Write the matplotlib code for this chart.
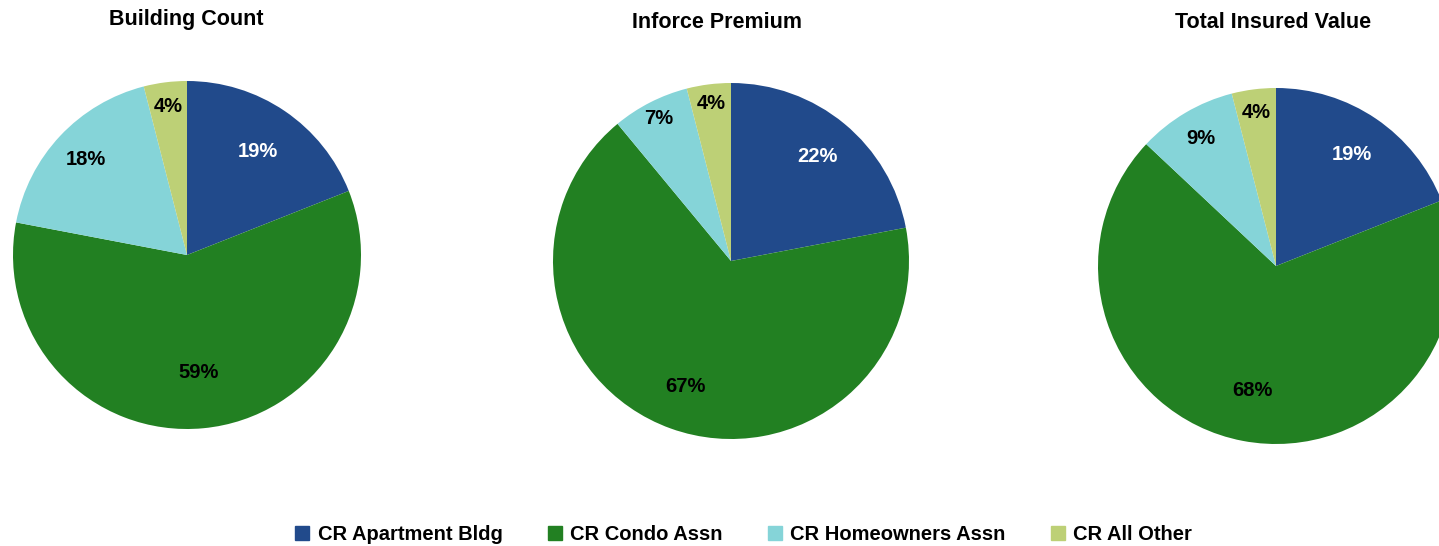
import numpy as np
import matplotlib.pyplot as plt
from matplotlib.lines import Line2D

plt.rcParams["font.family"] = ["Liberation Sans", "DejaVu Sans"]
plt.rcParams["font.weight"] = "bold"

W, H = 1439, 546

categories = ["CR Apartment Bldg", "CR Condo Assn", "CR Homeowners Assn", "CR All Other"]
colors = ["#214A8B", "#228022", "#85D4D8", "#BDD076"]
label_colors = ["white", "black", "black", "black"]

titles = ["Building Count", "Inforce Premium", "Total Insured Value"]
building_count = [19, 59, 18, 4]
inforce_premium = [22, 67, 7, 4]
total_insured = [19, 68, 9, 4]

# pixel layout: (center x, center y from top, radius, title x, title y)
layout = [
    (187, 255, 174, 186, 20),
    (731, 261, 178, 717, 22),
    (1276, 266, 178, 1273, 22),
]
label_dist = [
    [0.72, 0.68, 0.80, 0.86],
    [0.76, 0.75, 0.90, 0.89],
    [0.76, 0.71, 0.83, 0.87],
]

fig = plt.figure(figsize=(W / 100, H / 100), dpi=100)

for vals, title, (cx, cy, r, tx, ty), dists in zip(
        [building_count, inforce_premium, total_insured], titles, layout, label_dist):
    ax = fig.add_axes([(cx - r) / W, (H - cy - r) / H, 2 * r / W, 2 * r / H])
    wedges, _ = ax.pie(vals, colors=colors, startangle=90, counterclock=False,
                       radius=1, wedgeprops=dict(linewidth=0))
    ax.set_xlim(-1, 1)
    ax.set_ylim(-1, 1)
    ax.set_aspect("equal")
    ax.axis("off")
    for w, v, d, tc in zip(wedges, vals, dists, label_colors):
        mid = np.deg2rad((w.theta1 + w.theta2) / 2)
        ax.text(d * np.cos(mid), d * np.sin(mid), f"{v}%", ha="center", va="center",
                fontsize=14.5, fontweight="bold", color=tc)
    fig.text(tx / W, 1 - ty / H, title, ha="center", va="center",
             fontsize=15.5, fontweight="bold")

handles = [Line2D([], [], marker="s", ls="", color=c, markersize=10) for c in colors]
fig.legend(handles, categories, loc="center", bbox_to_anchor=(742 / W, 1 - 535 / H),
           ncol=4, frameon=False, fontsize=14.5, handletextpad=0.25, columnspacing=2.1,
           handlelength=1.0)

fig.savefig("out.png", dpi=100)
